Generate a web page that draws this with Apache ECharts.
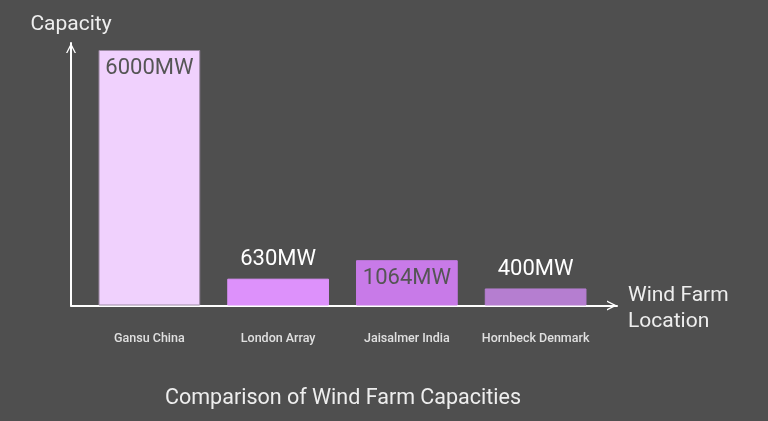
<!DOCTYPE html>
<html>
<head>
<meta charset="utf-8">
<script src="https://cdn.jsdelivr.net/npm/echarts@6/dist/echarts.min.js"></script>
<style>
    html, body { margin: 0; padding: 0; background: #4f4f4f; }
    #chart { width: 768px; height: 421px; }
</style>
</head>
<body>
<div id="chart"></div>
<script>
var locations = ['Gansu China', 'London Array', 'Jaisalmer India', 'Hornbeck Denmark'];
var capacities = [6000, 630, 1064, 400];
var barColors = ['#f0d1fd', '#dd91fb', '#c87ae8', '#b57ed0'];
var insideLabel = [true, false, true, false];

var chevron = 'path://M0,10 L5,0 L10,10 L8.6,10 L5,3 L1.4,10 Z';

var myChart = echarts.init(document.getElementById('chart'));

var barData = capacities.map(function (v, i) {
    return {
        value: v,
        itemStyle: { color: barColors[i], borderColor: i === 0 ? '#9c8aa3' : barColors[i], borderWidth: 1 },
        label: insideLabel[i]
            ? { position: 'insideTop', distance: 7, color: '#555555' }
            : { position: 'top', distance: 8, color: '#ffffff' }
    };
});

var option = {
    backgroundColor: '#4f4f4f',
    textStyle: { fontFamily: 'Roboto' },
    title: {
        text: 'Comparison of Wind Farm Capacities',
        left: 160,
        top: 383,
        textStyle: { color: '#eeeeee', fontSize: 21.5, fontWeight: 'normal', fontFamily: 'Roboto' }
    },
    grid: [
        { left: 71, right: 151, top: 43, bottom: 115.5 },
        { left: 85, right: 168, top: 50, bottom: 115.5 }
    ],
    xAxis: [
        {
            gridIndex: 0, type: 'value', min: 0, max: 1,
            name: '{n|Wind Farm}\n{n|Location}', nameLocation: 'end', nameGap: 11,
            nameTextStyle: {
                color: '#eeeeee', fontSize: 21, fontFamily: 'Roboto',
                rich: { n: { color: '#eeeeee', fontSize: 21, lineHeight: 26, fontFamily: 'Roboto', padding: [6, 0, 0, 0] } }
            },
            axisLine: { show: true, lineStyle: { color: '#ffffff', width: 2 }, symbol: ['none', chevron], symbolSize: [16, 10], symbolOffset: [0, -5] },
            axisTick: { show: false }, axisLabel: { show: false }, splitLine: { show: false }
        },
        {
            gridIndex: 1, type: 'category', data: locations,
            axisLine: { show: false }, axisTick: { show: false },
            axisLabel: { interval: 0, color: '#e0e0e0', fontSize: 12.5, fontWeight: 500, margin: 27, fontFamily: 'Roboto' }
        }
    ],
    yAxis: [
        {
            gridIndex: 0, type: 'value', min: 0, max: 1,
            name: 'Capacity', nameLocation: 'end', nameGap: 8,
            nameTextStyle: { color: '#eeeeee', fontSize: 21, fontFamily: 'Roboto' },
            axisLine: { show: true, lineStyle: { color: '#ffffff', width: 2 }, symbol: ['none', chevron], symbolSize: [16, 10], symbolOffset: [0, -5] },
            axisTick: { show: false }, axisLabel: { show: false }, splitLine: { show: false }
        },
        {
            gridIndex: 1, type: 'value', min: 0, max: 6000, show: false
        }
    ],
    series: [{
        type: 'bar',
        xAxisIndex: 1,
        yAxisIndex: 1,
        barCategoryGap: '21%',
        data: barData,
        label: {
            show: true,
            fontSize: 22,
            fontFamily: 'Roboto',
            formatter: function (p) { return p.value + 'MW'; }
        }
    }]
};

myChart.setOption(option);
</script>
</body>
</html>
